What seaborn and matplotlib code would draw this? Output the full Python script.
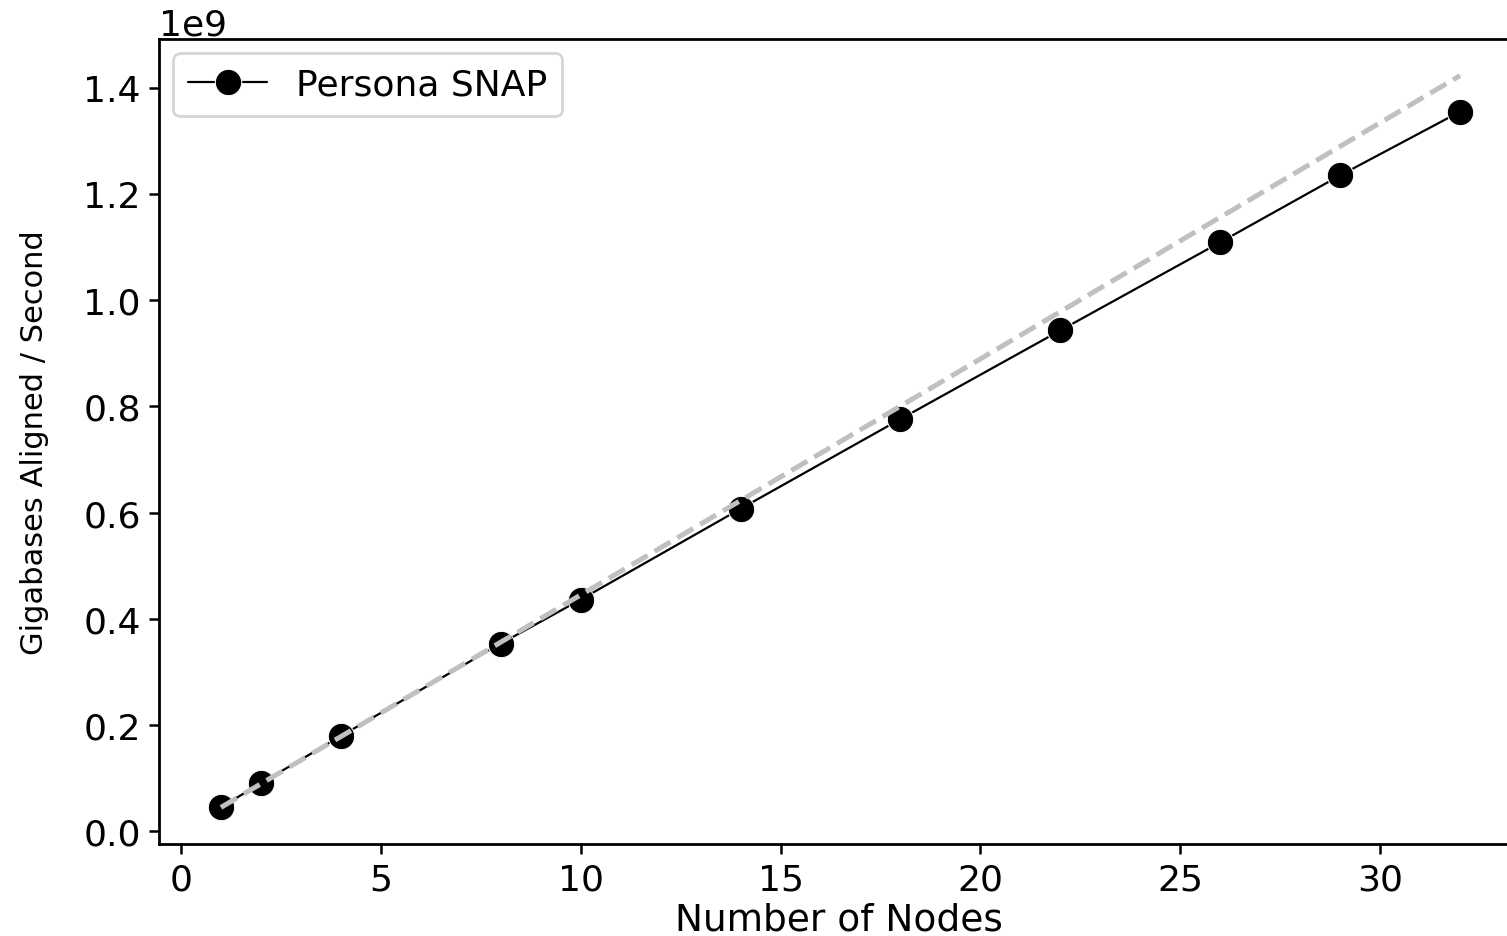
import numpy as np
import pandas as pd
import matplotlib
matplotlib.use("Agg")
import matplotlib.pyplot as plt
import seaborn as sns

# data
nodes = [1, 2, 4, 8, 10, 14, 18, 22, 26, 29, 32]
rate = [0.045e9, 0.090e9, 0.179e9, 0.353e9, 0.436e9, 0.607e9,
        0.776e9, 0.943e9, 1.109e9, 1.235e9, 1.355e9]
# ideal linear scaling (dashed line endpoints)
ideal_nodes = [1, 32]
ideal_rate = [0.0445e9, 1.423e9]

df = pd.DataFrame({"nodes": nodes, "rate": rate})
df_ideal = pd.DataFrame({"nodes": ideal_nodes, "rate": ideal_rate})

sns.set_style("ticks")
plt.rcParams['font.family'] = ['DejaVu Sans']
plt.rcParams.update({
    "text.color": "black",
    "axes.labelcolor": "black",
    "axes.edgecolor": "black",
    "xtick.color": "black",
    "ytick.color": "black",
    "axes.linewidth": 2.0,
    "xtick.major.size": 7,
    "ytick.major.size": 7,
    "xtick.major.width": 1.8,
    "ytick.major.width": 1.8,
})

fig = plt.figure(figsize=(15.07, 9.37), dpi=100)
ax = fig.add_axes([159 / 1507, 1 - 845 / 937, (1522 - 159) / 1507, (845 - 40) / 937])

sns.lineplot(data=df, x="nodes", y="rate", ax=ax, color="black", marker="o",
             markersize=19, linewidth=1.6, label="Persona SNAP", zorder=2)
sns.lineplot(data=df_ideal, x="nodes", y="rate", ax=ax, color="#c0c0c0",
             linestyle="--", linewidth=3.6, zorder=3, legend=False)

ax.tick_params(axis="both", labelsize=26, pad=6)
ax.yaxis.get_offset_text().set_fontsize(26)

ax.set_xlabel("Number of Nodes", fontsize=27)
ax.xaxis.set_label_coords(0.499, -0.071)
ax.set_ylabel("Gigabases Aligned / Second", fontsize=22)
ax.yaxis.set_label_coords(-0.081, 0.5)

leg = ax.legend(loc="upper left", fontsize=26, handlelength=2.2,
                frameon=True, fancybox=True, borderaxespad=0.4)
leg.get_frame().set_edgecolor("#cccccc")
leg.get_frame().set_linewidth(2)

fig.savefig("out.png", dpi=100)
